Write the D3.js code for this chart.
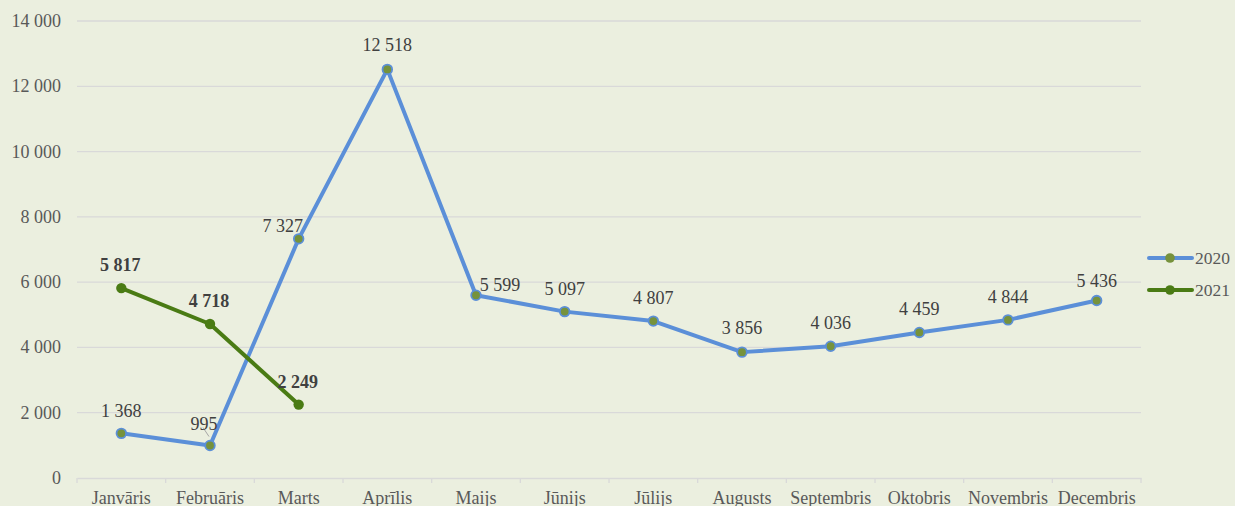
<!DOCTYPE html>
<html>
<head>
<meta charset="utf-8">
<script src="https://cdn.jsdelivr.net/npm/d3@7"></script>
<style>
  body { margin: 0; background: #ebefdf; }
  svg { display: block; }
  text { font-family: 'Liberation Serif', 'Times New Roman', serif; fill: #404040; }
</style>
</head>
<body>
<svg id="canvas" width="1235" height="506"></svg>
<script>
// months and values
let months = ['Janvāris', 'Februāris', 'Marts', 'Aprīlis', 'Maijs', 'Jūnijs', 'Jūlijs', 'Augusts', 'Septembris', 'Oktobris', 'Novembris', 'Decembris']
let values2020 = [1368, 995, 7327, 12518, 5599, 5097, 4807, 3856, 4036, 4459, 4844, 5436]
let values2021 = [5817, 4718, 2249]
let yTicks = [0, 2000, 4000, 6000, 8000, 10000, 12000, 14000]

// label offsets (dx, dy) relative to point for 2020 series
let labelShift2020 = [[0, -16], [-6, -16], [-16, -7], [0, -18], [24, -4], [0, -17], [0, -17], [0, -18], [0, -17], [0, -17], [0, -17], [0, -14]]

let fmt = (v) => d3.format(',')(v).replace(/,/g, ' ')

let canvas = d3.select('#canvas')

let plotLeft = 77, plotRight = 1141, plotTop = 21, plotBottom = 478

let x = d3.scaleBand().domain(months).range([plotLeft, plotRight])
let y = d3.scaleLinear().domain([0, 14000]).range([plotBottom, plotTop])
let cx = (m) => x(m) + x.bandwidth() / 2

// gridlines
canvas.append('g')
    .selectAll('line')
    .data(yTicks.filter(t => t > 0))
    .enter()
    .append('line')
    .attr('x1', plotLeft).attr('x2', plotRight)
    .attr('y1', d => y(d)).attr('y2', d => y(d))
    .attr('stroke', '#d9d9d9').attr('stroke-width', 1.3)

// y labels
canvas.append('g')
    .selectAll('text')
    .data(yTicks)
    .enter()
    .append('text')
    .attr('x', 61)
    .attr('y', d => y(d) + 6)
    .attr('text-anchor', 'end')
    .style('font-size', '18px')
    .style('fill', '#595959')
    .text(d => fmt(d))

// x axis
let xAxis = d3.axisBottom(x).tickSize(0).tickPadding(13)
let xg = canvas.append('g')
    .attr('transform', 'translate(0,' + plotBottom + ')')
    .call(xAxis)
xg.select('.domain').attr('stroke', '#d9d9d9').attr('stroke-width', 1.3)
xg.selectAll('text')
    .style('font-size', '18px')
    .style('font-family', "'Liberation Serif', serif")
    .style('fill', '#595959')
xg.selectAll('.sep')
    .data(d3.range(months.length + 1))
    .enter()
    .append('line')
    .attr('x1', i => plotLeft + i * x.bandwidth())
    .attr('x2', i => plotLeft + i * x.bandwidth())
    .attr('y1', 0).attr('y2', 5)
    .attr('stroke', '#d9d9d9').attr('stroke-width', 1.3)

let line = d3.line()
    .x((d, i) => cx(months[i]))
    .y(d => y(d))

// 2020 series
canvas.append('path')
    .datum(values2020)
    .attr('d', line)
    .attr('fill', 'none')
    .attr('stroke', '#5b8fd8')
    .attr('stroke-width', 4)
    .attr('stroke-linejoin', 'round')

canvas.append('g')
    .selectAll('circle')
    .data(values2020)
    .enter()
    .append('circle')
    .attr('cx', (d, i) => cx(months[i]))
    .attr('cy', d => y(d))
    .attr('r', 4.8)
    .attr('fill', '#76923c')
    .attr('stroke', '#5b8fd8')
    .attr('stroke-width', 1.8)

// leader line for Februāris
canvas.append('line')
    .attr('x1', cx(months[1]) - 7).attr('y1', y(values2020[1]) - 18)
    .attr('x2', cx(months[1]) - 1).attr('y2', y(values2020[1]) - 9)
    .attr('stroke', '#a6a6a6').attr('stroke-width', 1)

canvas.append('g')
    .selectAll('text')
    .data(values2020)
    .enter()
    .append('text')
    .attr('x', (d, i) => cx(months[i]) + labelShift2020[i][0])
    .attr('y', (d, i) => y(d) + labelShift2020[i][1])
    .attr('text-anchor', 'middle')
    .style('font-size', '18px')
    .text(d => fmt(d))

// 2021 series
canvas.append('path')
    .datum(values2021)
    .attr('d', line)
    .attr('fill', 'none')
    .attr('stroke', '#4a7b14')
    .attr('stroke-width', 4)
    .attr('stroke-linejoin', 'round')

canvas.append('g')
    .selectAll('circle')
    .data(values2021)
    .enter()
    .append('circle')
    .attr('cx', (d, i) => cx(months[i]))
    .attr('cy', d => y(d))
    .attr('r', 5.2)
    .attr('fill', '#4a7b14')

canvas.append('g')
    .selectAll('text')
    .data(values2021)
    .enter()
    .append('text')
    .attr('x', (d, i) => cx(months[i]) - 1)
    .attr('y', d => y(d) - 17)
    .attr('text-anchor', 'middle')
    .style('font-size', '18px')
    .style('font-weight', 'bold')
    .text(d => fmt(d))

// legend
let legend = canvas.append('g')
let series = [{name: '2020', color: '#5b8fd8', marker: '#76923c'}, {name: '2021', color: '#4a7b14', marker: '#4a7b14'}]
series.forEach((s, i) => {
    let ly = 258 + i * 32
    legend.append('line')
        .attr('x1', 1149).attr('x2', 1192)
        .attr('y1', ly).attr('y2', ly)
        .attr('stroke', s.color).attr('stroke-width', 4)
        .attr('stroke-linecap', 'round')
    legend.append('circle')
        .attr('cx', 1170).attr('cy', ly).attr('r', 4.8)
        .attr('fill', s.marker)
    legend.append('text')
        .attr('x', 1195).attr('y', ly + 6)
        .style('font-size', '17.5px')
        .style('fill', '#595959')
        .text(s.name)
})
</script>
</body>
</html>
